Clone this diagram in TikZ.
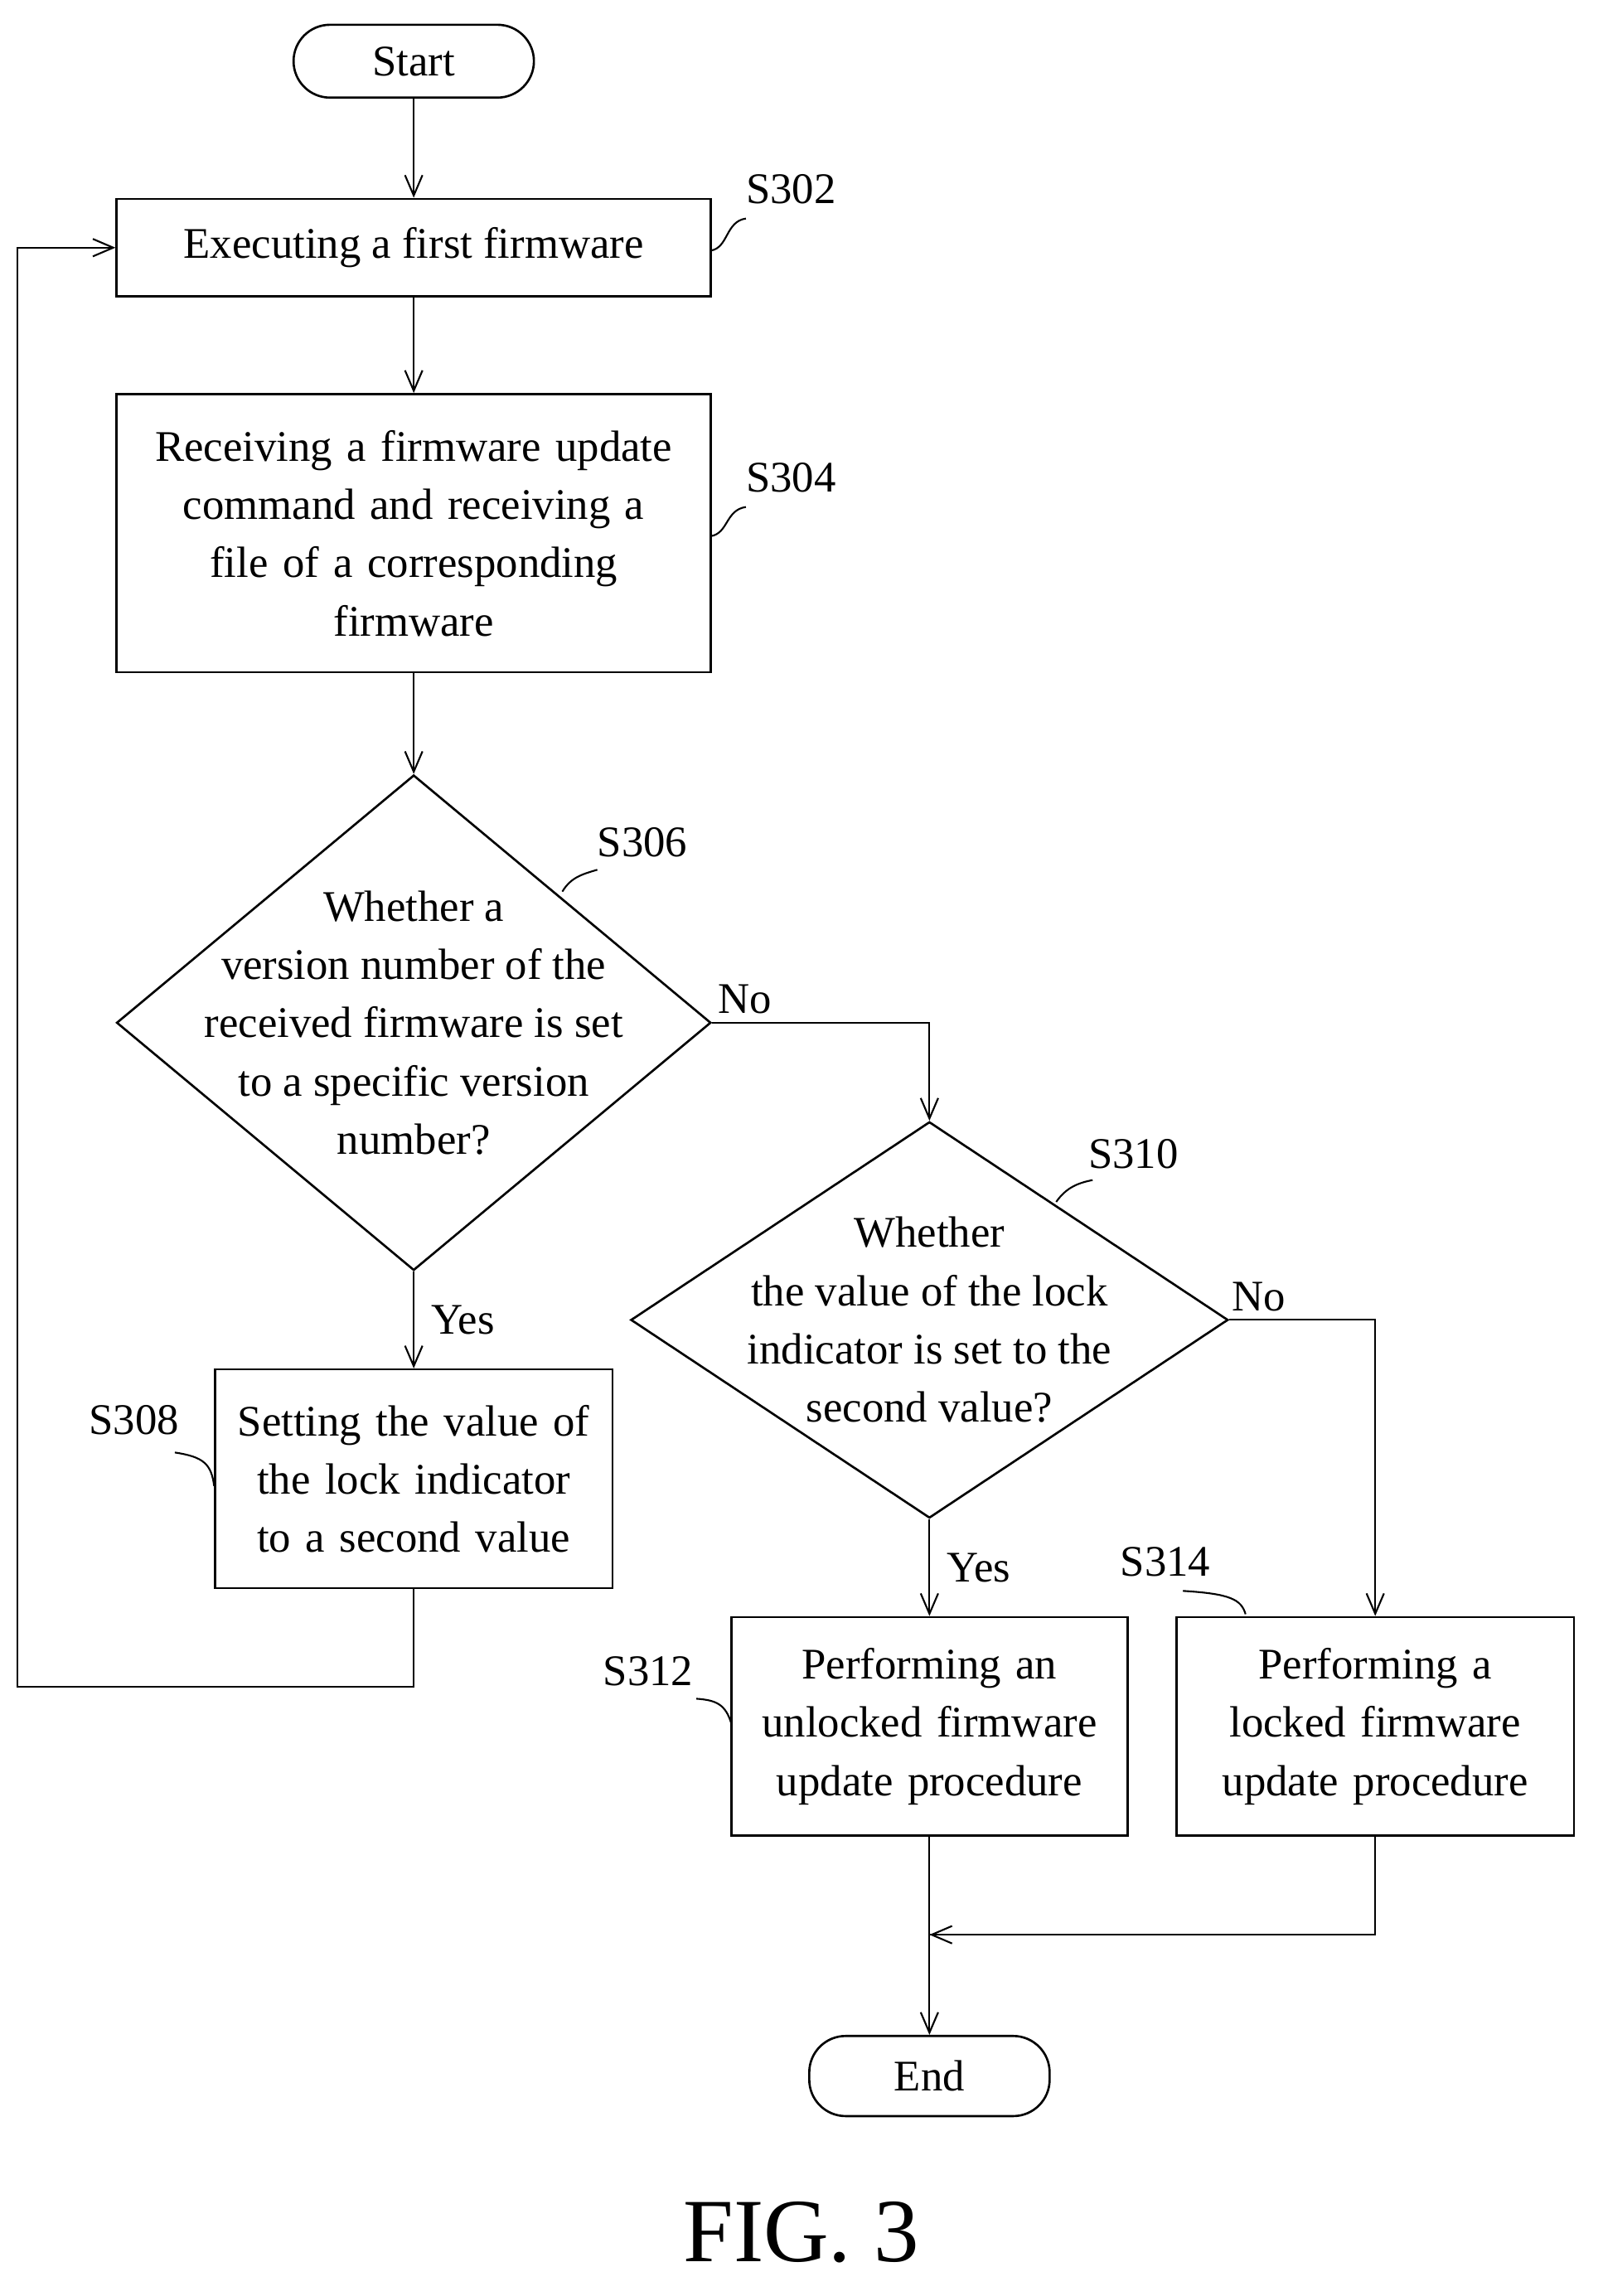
\documentclass[tikz,border=0pt]{standalone}
\usepackage{fontspec}
\setmainfont{Liberation Serif}
\usetikzlibrary{positioning,arrows.meta,shapes.geometric}
\tikzset{
  flowfont/.style={font=\fontsize{30}{40}\selectfont},
  flowbox/.style={draw, line width=1.5pt, align=center, inner sep=0pt},
  flowterm/.style={draw, line width=1.5pt, rounded corners=25pt, inner sep=0pt},
  flowdiamond/.style={draw, line width=1.5pt, diamond, inner sep=0pt},
  flowarrow/.style={-{Straight Barb[length=14pt,width=12pt]}, line width=1.2pt},
  flowline/.style={line width=1.2pt},
  flowtag/.style={line width=1.2pt},
}
\begin{document}
\begin{tikzpicture}[x=1pt, y=-1pt, flowfont]
  \useasboundingbox (0,0) rectangle (1100,1576);
  % Terminals and steps
  \node[flowterm, minimum width=165pt, minimum height=50pt] (start) at (284,42) {Start};
  \node[flowbox, minimum width=408pt, minimum height=67pt] (s302) at (284,170) {Executing a first firmware};
  \node[flowbox, minimum width=408pt, minimum height=191pt, text width=400pt] (s304) at (284,366)
    {Receiving a firmware update\\command and receiving a\\file of a corresponding\\firmware};
  \node[flowdiamond, minimum width=408pt, minimum height=340pt] (s306) at (284,702) {};
  \node[align=center] (s306t) at (s306) {Whether a\\version number of the\\received firmware is set\\to a specific version\\number?};
  \node[flowbox, minimum width=273pt, minimum height=150pt, text width=270pt] (s308) at (284,1015)
    {Setting the value of\\the lock indicator\\to a second value};
  \node[flowdiamond, minimum width=410pt, minimum height=272pt] (s310) at (638,906) {};
  \node[align=center] (s310t) at (s310) {Whether\\the value of the lock\\indicator is set to the\\second value?};
  \node[flowbox, minimum width=272pt, minimum height=150pt, text width=268pt] (s312) at (638,1185)
    {Performing an\\unlocked firmware\\update procedure};
  \node[flowbox, minimum width=273pt, minimum height=150pt, text width=268pt] (s314) at (944,1185)
    {Performing a\\locked firmware\\update procedure};
  \node[flowterm, minimum width=165pt, minimum height=55pt] (end) at (638,1425) {End};
  \node[font=\fontsize{62}{70}\selectfont] (fig) at (550,1532) {FIG. 3};

  % Connectors
  \coordinate (loopA) at (284,1158);
  \coordinate (loopB) at (12,1158);
  \coordinate (loopC) at (12,170);
  \coordinate (merge) at (638,1328);
  \draw[flowarrow] (start) -- (s302);
  \draw[flowarrow] (s302) -- (s304);
  \draw[flowarrow] (s304) -- (s306.north);
  \draw[flowarrow] (s306.south) -- node[right=8pt, pos=0.5] {Yes} (s308);
  \draw[flowarrow] (s308.south) -- (loopA) -- (loopB) -- (loopC) -- (s302.west);
  \draw[flowarrow] (s306.east) -- node[above=2pt, pos=0.15] {No} (s310.north |- s306.east) -- (s310.north);
  \draw[flowarrow] (s310.south) -- node[right=8pt, pos=0.5] {Yes} (s312);
  \draw[flowarrow] (s310.east) -- node[above=2pt, pos=0.2] {No} (s314.north |- s310.east) -- (s314.north);
  \draw[flowline] (s314.south) |- (s312.south |- merge);
  \draw[flowarrow] (s314.south |- merge) -- (merge);
  \draw[flowarrow] (s312.south) -- (end);

  % Step tags
  \node (t302) at (543,130) {S302};
  \node (t304) at (543,328) {S304};
  \node (t306) at (441,578) {S306};
  \node (t308) at (92,975) {S308};
  \node (t310) at (778,792) {S310};
  \node (t312) at (445,1147) {S312};
  \node (t314) at (800,1072) {S314};
  \draw[flowtag] (488,172) .. controls (500,170) and (498,152) .. (512,150);
  \draw[flowtag] (488,368) .. controls (500,366) and (498,350) .. (512,348);
  \draw[flowtag] (386,612) .. controls (392,602) and (400,600) .. (410,597);
  \draw[flowtag] (147,1020) .. controls (145,1005) and (140,1000) .. (120,997);
  \draw[flowtag] (725,825) .. controls (732,815) and (740,812) .. (750,810);
  \draw[flowtag] (502,1183) .. controls (498,1170) and (492,1167) .. (478,1166);
  \draw[flowtag] (855,1108) .. controls (852,1098) and (845,1094) .. (812,1092);
\end{tikzpicture}
\end{document}
